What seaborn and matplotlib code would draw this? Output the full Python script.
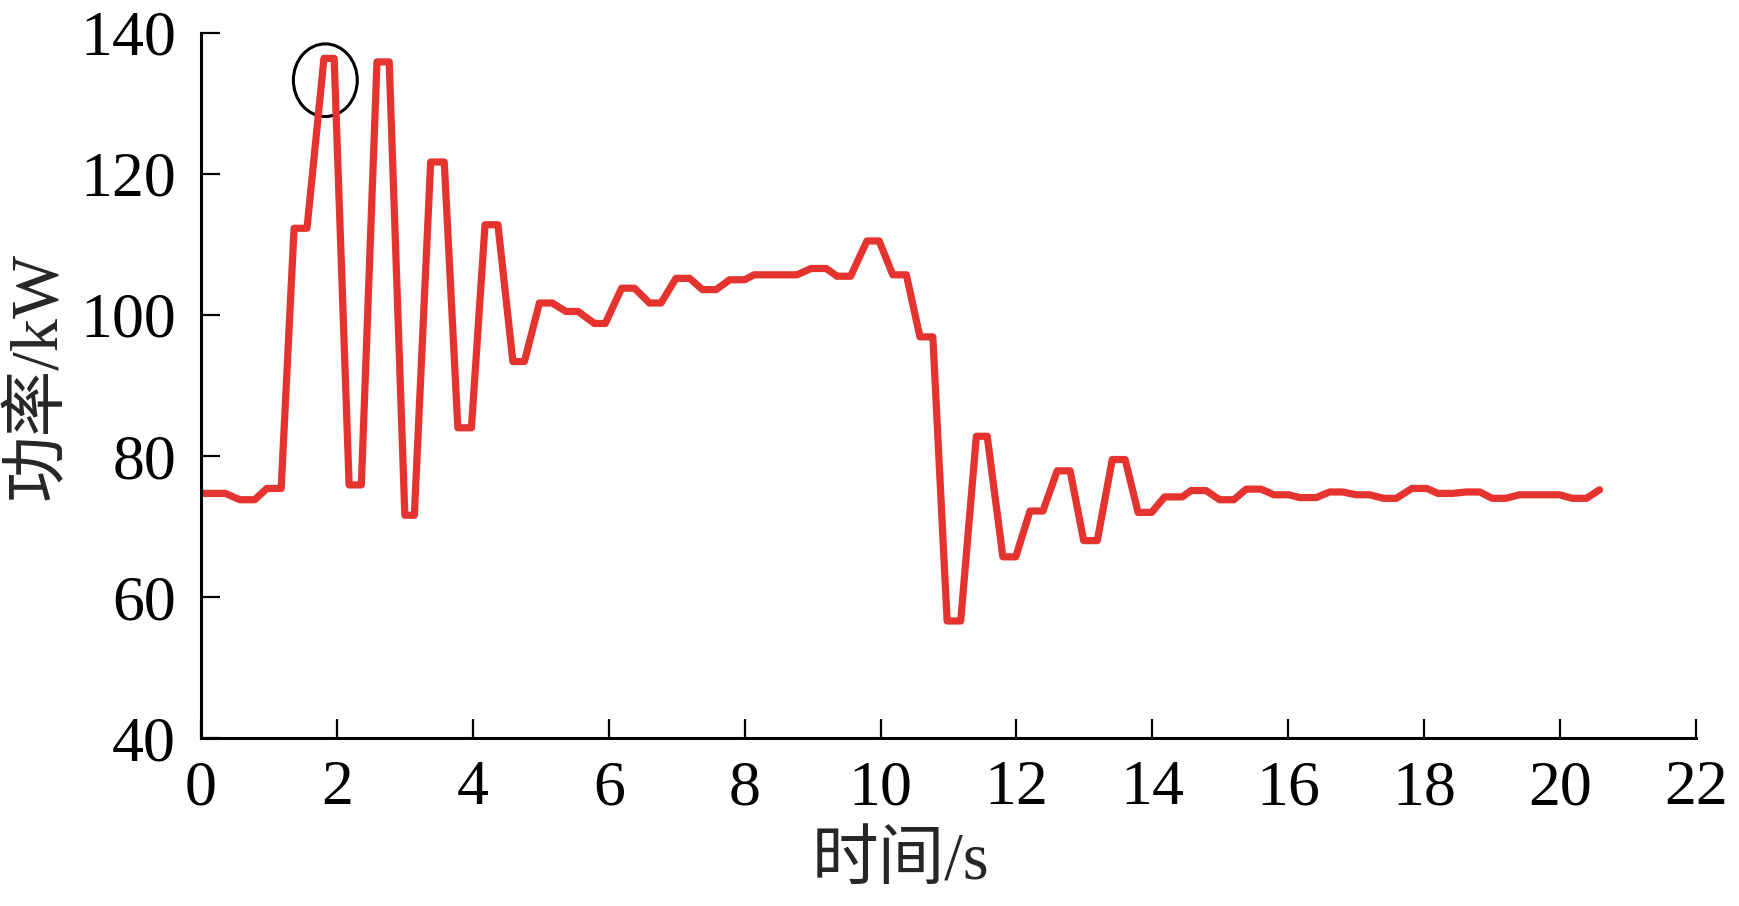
import numpy as np
import pandas as pd
import matplotlib
matplotlib.use("Agg")
import matplotlib.pyplot as plt
from matplotlib.patches import Ellipse
import seaborn as sns

# power response (time in s, power in kW)
time_s = [0, 0.36, 0.57, 0.79, 0.97, 1.18, 1.37, 1.56, 1.81, 1.96,
          2.18, 2.36, 2.59, 2.77, 3.0, 3.14, 3.38, 3.58, 3.78, 3.98,
          4.18, 4.37, 4.59, 4.76, 4.98, 5.17, 5.37, 5.55, 5.79, 5.95,
          6.19, 6.38, 6.6, 6.77, 6.99, 7.19, 7.38, 7.58, 7.78, 8.0,
          8.14, 8.77, 8.98, 9.2, 9.36, 9.56, 9.8, 9.98, 10.18, 10.38,
          10.58, 10.77, 10.98, 11.18, 11.41, 11.57, 11.8, 11.99, 12.2, 12.39,
          12.6, 12.79, 12.99, 13.19, 13.41, 13.6, 13.79, 13.99, 14.18, 14.44,
          14.57, 14.79, 14.99, 15.2, 15.38, 15.6, 15.79, 16.01, 16.17, 16.41,
          16.61, 16.8, 17.0, 17.2, 17.4, 17.59, 17.82, 18.04, 18.2, 18.42,
          18.62, 18.82, 19.0, 19.2, 19.4, 19.99, 20.18, 20.39, 20.58]
power_kw = [74.7, 74.7, 73.8, 73.8, 75.4, 75.4, 112.3, 112.3, 136.4, 136.4,
            75.9, 75.9, 135.9, 135.9, 71.6, 71.6, 121.7, 121.7, 84.0, 84.0,
            112.8, 112.8, 93.4, 93.4, 101.7, 101.7, 100.5, 100.5, 98.8, 98.8,
            103.8, 103.8, 101.7, 101.7, 105.2, 105.2, 103.6, 103.6, 105.0, 105.0,
            105.7, 105.7, 106.6, 106.6, 105.5, 105.5, 110.5, 110.5, 105.7, 105.7,
            96.9, 96.9, 56.6, 56.6, 82.8, 82.8, 65.7, 65.7, 72.2, 72.2,
            77.9, 77.9, 68.0, 68.0, 79.5, 79.5, 72.0, 72.0, 74.2, 74.2,
            75.1, 75.1, 73.8, 73.8, 75.3, 75.3, 74.5, 74.5, 74.1, 74.1,
            74.9, 74.9, 74.5, 74.5, 74.0, 74.0, 75.4, 75.4, 74.7, 74.7,
            74.9, 74.9, 74.0, 74.0, 74.5, 74.5, 74.0, 74.0, 75.2]

x_ticks = list(range(0, 23, 2))
y_ticks = list(range(40, 141, 20))

df = pd.DataFrame({"t": time_s, "p": power_kw})

sns.set_style("ticks")
plt.rcParams["font.family"] = ["Liberation Serif", "Noto Sans CJK SC"]

fig, ax = plt.subplots(figsize=(17.4, 9.06), dpi=100)
fig.subplots_adjust(left=0.1155, right=0.9747, top=0.9636, bottom=0.1854)

sns.lineplot(data=df, x="t", y="p", sort=False, estimator=None,
             color="#e5332f", linewidth=5.2, ax=ax)

# circle marking the first peak
ax.add_patch(Ellipse((1.83, 133.3), 0.94, 10.3, fill=False,
                     edgecolor="black", linewidth=2.2))

ax.set_xlim(0, 22)
ax.set_ylim(40, 140)
ax.set_xticks(x_ticks)
ax.set_yticks(y_ticks)
ax.set_xlabel("时间/s", fontsize=48)
ax.set_ylabel("功率/kW", fontsize=48)
ax.xaxis.set_label_coords(0.468, -0.133)
ax.yaxis.set_label_coords(-0.088, 0.513)

ax.tick_params(direction="in", length=13.5, width=1.6, labelsize=46,
               colors="black")
ax.tick_params(axis="x", pad=16)
ax.tick_params(axis="y", pad=18)

sns.despine(ax=ax)
for s in ["left", "bottom"]:
    ax.spines[s].set_linewidth(2.2)
    ax.spines[s].set_color("black")

fig.savefig("out.png", dpi=100)
